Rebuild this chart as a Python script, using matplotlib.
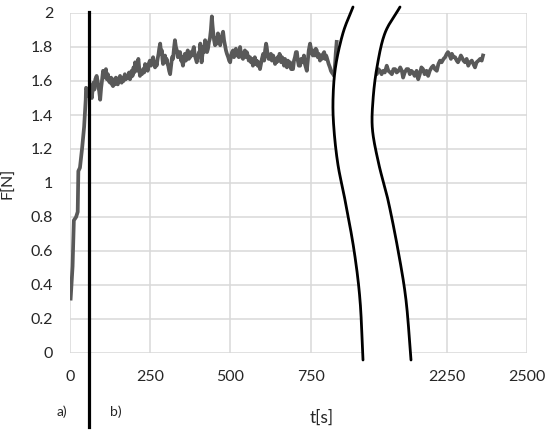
import numpy as np
import matplotlib
matplotlib.use("Agg")
import matplotlib.pyplot as plt

plt.rcParams['font.family'] = ['Lato', 'DejaVu Sans']

# ---- data ----
# first part of the run (0 .. ~830 s)
t_first = [2, 8, 12, 19, 24, 26, 31, 38, 44, 49, 50, 54, 57,
           62, 65, 68, 71, 73, 76, 79, 83, 86, 88, 91, 94, 97, 99, 103, 106,
           109, 112, 115, 118, 121, 125, 128, 131, 134, 137, 140, 143, 146, 149,
           152, 156, 159, 161, 164, 167, 171, 174, 177, 181, 184, 187, 190, 192,
           195, 198, 200, 203, 205, 208, 211, 213, 216, 218, 221, 224, 228, 231,
           234, 237, 239, 242, 245, 249, 252, 255, 259, 262, 265, 268, 270, 273,
           276, 278, 281, 284, 286, 288, 290, 293, 296, 299, 301, 304, 306, 309,
           312, 315, 318, 321, 324, 327, 330, 333, 336, 340, 343, 346, 348, 350,
           352, 355, 358, 361, 364, 367, 370, 374, 377, 380, 383, 386, 389, 392,
           395, 398, 402, 405, 406, 408, 410, 413, 416, 418, 421, 424, 427, 430,
           433, 436, 439, 442, 444, 446, 449, 452, 455, 458, 461, 464, 466, 468,
           471, 474, 477, 480, 483, 486, 489, 493, 496, 499, 502, 505, 508, 511,
           514, 517, 520, 523, 526, 530, 533, 536, 539, 542, 545, 548, 551, 554,
           557, 561, 564, 567, 570, 573, 576, 579, 582, 585, 588, 592, 595, 598,
           602, 605, 608, 611, 613, 616, 619, 623, 626, 629, 633, 636, 639, 641,
           644, 647, 650, 653, 655, 658, 661, 664, 667, 670, 673, 676, 679, 682,
           686, 689, 692, 695, 698, 701, 704, 707, 710, 713, 717, 720, 723, 726,
           729, 732, 735, 738, 741, 744, 748, 751, 754, 757, 760, 763, 766, 769,
           772, 775, 779, 782, 785, 789, 792, 795, 798, 800, 803, 806, 810, 813,
           816, 820, 823, 826, 828, 831]
F_first = [0.32, 0.51, 0.78, 0.80, 0.83, 1.07, 1.09, 1.21, 1.33, 1.49, 1.56, 1.55, 1.51,
           1.57, 1.53, 1.50, 1.56, 1.59, 1.55, 1.61, 1.63, 1.60, 1.57, 1.54, 1.49, 1.56, 1.59, 1.66, 1.62,
           1.65, 1.67, 1.61, 1.64, 1.60, 1.59, 1.62, 1.58, 1.57, 1.61, 1.58, 1.62, 1.60, 1.58,
           1.61, 1.63, 1.60, 1.59, 1.62, 1.60, 1.64, 1.61, 1.63, 1.62, 1.65, 1.61, 1.63, 1.66,
           1.63, 1.68, 1.65, 1.71, 1.67, 1.66, 1.70, 1.73, 1.67, 1.63, 1.66, 1.64, 1.67, 1.65,
           1.70, 1.67, 1.69, 1.66, 1.70, 1.72, 1.69, 1.71, 1.74, 1.70, 1.68, 1.71, 1.69, 1.73,
           1.76, 1.79, 1.82, 1.76, 1.78, 1.73, 1.70, 1.72, 1.75, 1.71, 1.73, 1.70, 1.69, 1.66,
           1.64, 1.69, 1.74, 1.73, 1.79, 1.84, 1.80, 1.78, 1.74, 1.77, 1.77, 1.72, 1.74, 1.71,
           1.69, 1.73, 1.76, 1.72, 1.76, 1.78, 1.73, 1.74, 1.77, 1.75, 1.78, 1.80, 1.75, 1.73,
           1.71, 1.74, 1.77, 1.76, 1.82, 1.76, 1.71, 1.76, 1.80, 1.77, 1.84, 1.80, 1.77, 1.79,
           1.83, 1.85, 1.90, 1.98, 1.93, 1.89, 1.84, 1.81, 1.85, 1.82, 1.88, 1.83, 1.86, 1.81,
           1.85, 1.87, 1.89, 1.84, 1.81, 1.78, 1.76, 1.74, 1.72, 1.71, 1.75, 1.77, 1.78, 1.74,
           1.76, 1.79, 1.75, 1.77, 1.74, 1.80, 1.76, 1.74, 1.73, 1.76, 1.78, 1.74, 1.77, 1.75,
           1.72, 1.74, 1.71, 1.73, 1.69, 1.71, 1.74, 1.70, 1.72, 1.69, 1.71, 1.67, 1.70, 1.73,
           1.76, 1.72, 1.78, 1.82, 1.80, 1.75, 1.73, 1.73, 1.76, 1.72, 1.75, 1.73, 1.70, 1.73,
           1.71, 1.74, 1.72, 1.76, 1.75, 1.71, 1.74, 1.72, 1.69, 1.73, 1.70, 1.68, 1.72, 1.69,
           1.71, 1.67, 1.70, 1.67, 1.72, 1.74, 1.77, 1.77, 1.72, 1.69, 1.69, 1.73, 1.71, 1.72,
           1.75, 1.70, 1.68, 1.66, 1.72, 1.78, 1.82, 1.79, 1.76, 1.75, 1.78, 1.75, 1.79, 1.78,
           1.74, 1.76, 1.72, 1.75, 1.73, 1.76, 1.77, 1.73, 1.75, 1.74, 1.72, 1.70, 1.68, 1.66,
           1.65, 1.64, 1.63, 1.70, 1.76, 1.83]

# second part of the run, after the axis break (~2030 .. 2360 s)
t_second = [2026, 2031, 2036, 2041, 2046, 2051, 2056, 2062, 2067, 2073, 2078, 2083,
            2088, 2093, 2099, 2104, 2109, 2113, 2118, 2124, 2129, 2134, 2139, 2144,
            2149, 2155, 2160, 2165, 2170, 2175, 2180, 2186, 2191, 2196, 2202, 2207,
            2212, 2218, 2223, 2228, 2233, 2239, 2244, 2249, 2253, 2258, 2262, 2265,
            2270, 2275, 2280, 2284, 2289, 2293, 2296, 2301, 2306, 2311, 2316, 2321,
            2327, 2332, 2337, 2342, 2348, 2353, 2358, 2362]
F_second = [1.65, 1.64, 1.67, 1.66, 1.64, 1.66, 1.65, 1.69, 1.66, 1.65, 1.64, 1.67,
            1.67, 1.65, 1.66, 1.68, 1.66, 1.62, 1.65, 1.67, 1.67, 1.64, 1.66, 1.65,
            1.63, 1.66, 1.61, 1.64, 1.68, 1.67, 1.64, 1.66, 1.63, 1.66, 1.68, 1.69,
            1.67, 1.66, 1.70, 1.72, 1.71, 1.73, 1.74, 1.76, 1.77, 1.75, 1.73, 1.76,
            1.74, 1.74, 1.72, 1.71, 1.73, 1.75, 1.74, 1.72, 1.71, 1.73, 1.69, 1.71,
            1.72, 1.70, 1.68, 1.71, 1.72, 1.73, 1.72, 1.75]

x_ticks_left = [0, 250, 500, 750]
x_ticks_right = [2250, 2500]
y_ticks = [0, 0.2, 0.4, 0.6, 0.8, 1, 1.2, 1.4, 1.6, 1.8, 2]
y_ticklabels = ['0', '0.2', '0.4', '0.6', '0.8', '1', '1.2', '1.4', '1.6', '1.8', '2']
t_phase = 57.7  # boundary between phase a) and b)

# time skipped by the axis break
skip = 1075

grid_c = '#d9d9d9'
line_c = '#595959'
text_c = '#262626'

fig = plt.figure(figsize=(5.5, 4.32), dpi=100)
ax = fig.add_axes([70 / 550, 1 - 353 / 432, 457.3 / 550, 340 / 432])

ax.plot(t_first, F_first, color=line_c, lw=2.7, zorder=3, solid_joinstyle='round')
ax.plot(np.array(t_second) - skip, F_second, color=line_c, lw=2.7, zorder=3,
        solid_joinstyle='round')

xt = x_ticks_left + [x - skip for x in x_ticks_right]
ax.set_xticks(xt)
ax.set_xticklabels([str(x) for x in x_ticks_left + x_ticks_right])
ax.set_yticks(y_ticks)
ax.set_yticklabels(y_ticklabels)
ax.set_xlim(0, x_ticks_right[-1] - skip)
ax.set_ylim(0, 2)
ax.grid(True, color=grid_c, lw=1.1, zorder=0)
ax.set_axisbelow(True)
for s in ax.spines.values():
    s.set_visible(False)
ax.tick_params(length=0, labelsize=11.5, colors=text_c)
ax.tick_params(axis='y', pad=12)
ax.tick_params(axis='x', pad=12)

fig.text(8 / 550, 1 - 183 / 432, 'F[N]', fontsize=11.5, color=text_c,
         rotation=90, ha='center', va='center')
fig.text(322 / 550, 1 - 418 / 432, 't[s]', fontsize=12.5, color=text_c,
         ha='center', va='center')
fig.text(62 / 550, 1 - 412 / 432, 'a)', fontsize=10, color=text_c, ha='center', va='center')
fig.text(116 / 550, 1 - 412 / 432, 'b)', fontsize=10, color=text_c, ha='center', va='center')

# phase separator
ax.plot([t_phase, t_phase], [-0.435, 2.006], color='black', lw=2.3,
        clip_on=False, zorder=6)


# axis break: two hand-drawn brackets with white in between (pixel coords)
def to_axes(px, py):
    return (np.array(px) - 70) / 457.3, (353 - np.array(py)) / 340


def catmull_rom(px, py, n=20):
    p = np.column_stack([px, py]).astype(float)
    p = np.vstack([2 * p[0] - p[1], p, 2 * p[-1] - p[-2]])
    out = []
    s = np.linspace(0, 1, n, endpoint=False)[:, None]
    for i in range(1, len(p) - 2):
        p0, p1, p2, p3 = p[i - 1], p[i], p[i + 1], p[i + 2]
        out.append(0.5 * ((2 * p1) + (-p0 + p2) * s
                          + (2 * p0 - 5 * p1 + 4 * p2 - p3) * s ** 2
                          + (-p0 + 3 * p1 - 3 * p2 + p3) * s ** 3))
    out.append(p[-2][None, :])
    out = np.vstack(out)
    return to_axes(out[:, 0], out[:, 1])


b_y = [7, 33, 67, 100, 130, 165, 200, 250, 300, 360]
b1x = [353, 343, 335.5, 333, 334, 338, 345, 354, 360, 363]
b2x = [400, 385, 377, 373, 372.5, 379, 388, 398, 406, 411]

ax1x, ax1y = catmull_rom(b1x, b_y)
ax2x, ax2y = catmull_rom(b2x, b_y)
poly_x = np.concatenate([ax1x, ax2x[::-1]])
poly_y = np.concatenate([ax1y, ax2y[::-1]])
ax.fill(poly_x, poly_y, color='white', transform=ax.transAxes, clip_on=False, zorder=4)
ax.plot(ax1x, ax1y, color='black', lw=2.0, transform=ax.transAxes, clip_on=False,
        zorder=5, solid_capstyle='round')
ax.plot(ax2x, ax2y, color='black', lw=2.0, transform=ax.transAxes, clip_on=False,
        zorder=5, solid_capstyle='round')

fig.savefig('out.png', dpi=100)
